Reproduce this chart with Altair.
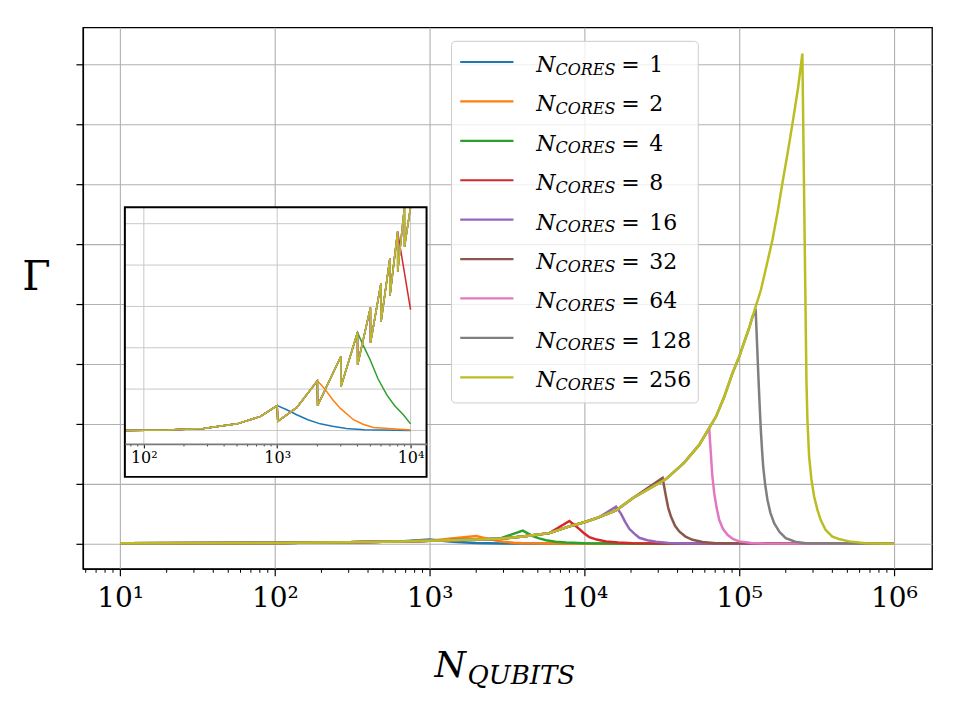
import altair as alt
import pandas as pd

# ---------------- data ----------------
CORES = [1, 2, 4, 8, 16, 32, 64, 128, 256]
COLORS = ["#1f77b4", "#ff7f0e", "#2ca02c", "#d62728", "#9467bd",
          "#8c564b", "#e377c2", "#7f7f7f", "#bcbd22"]

# main panel: common rising curve (the N_CORES=256 line before its peak)
ENV_N = [10, 100, 300, 640, 1000, 2000, 2830, 4000, 5940, 8000, 10000, 12500, 16000,
         20500, 33650, 44000, 55200, 70800, 80000, 90600, 100000, 105000, 116000, 122000,
         138000, 150000, 164000, 177000, 190000, 205000, 221000, 240000]
ENV_G = [0.01, 0.015, 0.025, 0.04, 0.05, 0.07, 0.085, 0.12, 0.178, 0.29, 0.36, 0.445, 0.555,
         0.76, 1.08, 1.35, 1.65, 2.12, 2.45, 2.85, 3.12, 3.28, 3.6, 3.79,
         4.23, 4.63, 5.07, 5.53, 6.01, 6.5, 7.01, 7.6]

PEAK_N = [1000, 2000, 4000, 8000, 16000, 32000, 64000, 128000, 256000]
PEAK_G = [0.07, 0.13, 0.22, 0.38, 0.62, 1.10, 1.93, 3.87, 8.18]

DECAY_N_1 = [1400, 2000, 3000, 10000, 1000000]
DECAY_G_1 = [0.035, 0.012, 0.004, 0.001, 0.0]
DECAY_N_2 = [2500, 2750, 3000, 3500, 4000, 8000, 1000000]
DECAY_G_2 = [0.07, 0.05, 0.035, 0.018, 0.01, 0.001, 0.0]
DECAY_N_4 = [4640, 5100, 5660, 6500, 7620, 10000, 20000, 1000000]
DECAY_G_4 = [0.13, 0.09, 0.06, 0.035, 0.02, 0.008, 0.001, 0.0]
DECAY_N_8 = [9290, 10000, 10770, 12000, 13800, 16500, 20500, 50000, 1000000]
DECAY_G_8 = [0.245, 0.17, 0.11, 0.07, 0.04, 0.02, 0.01, 0.001, 0.0]
DECAY_N_16 = [17260, 18300, 19500, 21000, 22640, 25500, 29000, 35000, 43000, 1000000]
DECAY_G_16 = [0.5, 0.37, 0.25, 0.17, 0.1, 0.06, 0.035, 0.015, 0.005, 0.0]
DECAY_N_32 = [33650, 34800, 36250, 38500, 41000, 45000, 50000, 58000, 70800, 1000000]
DECAY_G_32 = [0.79, 0.6, 0.455, 0.3, 0.205, 0.12, 0.067, 0.03, 0.01, 0.0]
DECAY_N_64 = [65600, 67000, 69000, 71500, 74300, 78500, 84100, 91000, 100000, 120000,
              148600, 1000000]
DECAY_G_64 = [1.51, 1.15, 0.845, 0.6, 0.4, 0.25, 0.15, 0.08, 0.04, 0.012, 0.003, 0.0]
DECAY_N_128 = [133400, 135700, 138000, 140400, 142900, 147000, 152400, 159000, 168300,
               182000, 200000, 230000, 269000, 1000000]
DECAY_G_128 = [2.73, 2.3, 1.9, 1.58, 1.29, 1.0, 0.73, 0.52, 0.345, 0.2, 0.095, 0.035,
               0.01, 0.0]
DECAY_N_256 = [267000, 272000, 276000, 283000, 293000, 305000, 320000, 336000, 362000,
               400000, 441000, 513000, 656000, 1000000]
DECAY_G_256 = [4.4, 2.73, 2.07, 1.46, 1.07, 0.79, 0.57, 0.4, 0.23, 0.12, 0.08, 0.04,
               0.01, 0.0]

DECAYS_N = [DECAY_N_1, DECAY_N_2, DECAY_N_4, DECAY_N_8, DECAY_N_16,
            DECAY_N_32, DECAY_N_64, DECAY_N_128, DECAY_N_256]
DECAYS_G = [DECAY_G_1, DECAY_G_2, DECAY_G_4, DECAY_G_8, DECAY_G_16,
            DECAY_G_32, DECAY_G_64, DECAY_G_128, DECAY_G_256]

MAIN_XTICKS = [10, 100, 1000, 10000, 100000, 1000000]
MAIN_YTICKS = [0, 1, 2, 3, 4, 5, 6, 7, 8]

# inset panel (zoom on 10^2..10^4)
IN_PRE_N = [72, 150, 280, 500, 750]
IN_PRE_G = [0.0, 0.001, 0.005, 0.016, 0.034]
IN_TOOTH_N = [1000, 2000, 3000, 4000, 5000, 6000, 7000, 8000, 9000]
IN_PEAK_G = [0.060, 0.120, 0.179, 0.237, 0.297, 0.356, 0.416, 0.481, 0.541]
IN_TROUGH_G = [0.022, 0.060, 0.106, 0.159, 0.212, 0.263, 0.326, 0.384, 0.444]
IN_MID_N = [1400]
IN_MID_G = [0.055]
IN_TOP_N = [10000]
IN_TOP_G = [0.60]

IN_DECAY_N_1 = [1180, 1400, 1700, 2100, 2600, 3300, 4500, 10000]
IN_DECAY_G_1 = [0.05, 0.038, 0.026, 0.016, 0.01, 0.005, 0.002, 0.0]
IN_DECAY_N_2 = [2170, 2355, 2600, 2965, 3735, 4400, 5263, 10000]
IN_DECAY_G_2 = [0.108, 0.094, 0.075, 0.054, 0.026, 0.015, 0.007, 0.001]
IN_DECAY_N_4 = [4400, 4977, 5700, 6637, 7600, 8836, 10000]
IN_DECAY_G_4 = [0.207, 0.171, 0.125, 0.086, 0.06, 0.038, 0.016]
IN_DECAY_N_8 = [10000]
IN_DECAY_G_8 = [0.292]
IN_DECAYS_N = [IN_DECAY_N_1, IN_DECAY_N_2, IN_DECAY_N_4, IN_DECAY_N_8]
IN_DECAYS_G = [IN_DECAY_G_1, IN_DECAY_G_2, IN_DECAY_G_4, IN_DECAY_G_8]

IN_XTICKS = [100, 1000, 10000]
IN_YTICKS = [0.0, 0.1, 0.2, 0.3, 0.4, 0.5]

# ---------------- tables ----------------
rows = []
for i, c in enumerate(CORES):
    pts = [(n, g) for n, g in zip(ENV_N, ENV_G) if n < PEAK_N[i]]
    pts.append((PEAK_N[i], PEAK_G[i]))
    pts += list(zip(DECAYS_N[i], DECAYS_G[i]))
    for k, (n, g) in enumerate(pts):
        rows.append({"N": n, "G": g, "cores": str(c), "k": k})
df_main = pd.DataFrame(rows)

rows = []
for i, c in enumerate(CORES):
    pk = PEAK_N[i]
    pts = list(zip(IN_PRE_N, IN_PRE_G))
    for n, gp, gt in zip(IN_TOOTH_N, IN_PEAK_G, IN_TROUGH_G):
        if n > pk:
            break
        pts.append((n, gp))
        if n == pk:
            break
        pts.append((n + 10, gt))
        pts += [(m, g) for m, g in zip(IN_MID_N, IN_MID_G) if n < m < n + 1000]
    if i < len(IN_DECAYS_N):
        pts += list(zip(IN_DECAYS_N[i], IN_DECAYS_G[i]))
    else:
        pts += list(zip(IN_TOP_N, IN_TOP_G))
    for k, (n, g) in enumerate(pts):
        rows.append({"N": n, "G": g, "cores": str(c), "k": k})
df_in = pd.DataFrame(rows)

MAIN_LO, MAIN_HI = 10 ** 0.76, 10 ** 6.246
IN_LO, IN_HI = 10 ** 1.858, 10 ** 4.12
main_minor = [m * 10 ** e for e in range(0, 7) for m in range(2, 10)
              if MAIN_LO <= m * 10 ** e <= MAIN_HI]
in_minor = [m * 10 ** e for e in range(1, 5) for m in range(2, 10)
            if IN_LO <= m * 10 ** e <= IN_HI]

# ---------------- layout constants (pixels, relative to plot origin) ----------------
W, H = 850, 542
IX0, IX1, IY0, IY1, IBOX = 42, 344, 180, 417, 450  # inset area

SERIF = "DejaVu Serif"
SUP = "['\u2070','\u00b9','\u00b2','\u00b3','\u2074','\u2075','\u2076']"
LABEL_EXPR = "'10' + " + SUP + "[round(log(datum.value) / LN10)]"

color = alt.Color("cores:N", scale=alt.Scale(domain=[str(c) for c in CORES], range=COLORS),
                  legend=None)

# ---------------- main panel ----------------
mx = alt.Scale(type="log", domain=[MAIN_LO, MAIN_HI], nice=False)
my = alt.Scale(domain=[-0.417, 8.617], nice=False, zero=False)
MAIN_XAXIS = alt.Axis(
    values=MAIN_XTICKS, labelExpr=LABEL_EXPR, labelFont=SERIF, labelFontSize=28,
    labelColor="black", labelPadding=9, labelFlush=False, labelOverlap=False,
    tickSize=7, tickColor="black", tickWidth=1.2, domainColor="black", domainWidth=1.3,
    grid=True, gridColor="#b0b0b0", gridWidth=1.1, title=None)
MAIN_YAXIS = alt.Axis(
    values=MAIN_YTICKS, labels=False, tickSize=7, tickColor="black", tickWidth=1.2,
    domainColor="black", domainWidth=1.3, grid=True, gridColor="#b0b0b0",
    gridWidth=1.1, title=None)

main_lines = alt.Chart(df_main).mark_line(strokeWidth=2.5).encode(
    x=alt.X("N:Q", scale=mx, axis=MAIN_XAXIS),
    y=alt.Y("G:Q", scale=my, axis=MAIN_YAXIS),
    color=color,
    order=alt.Order("k:Q"),
)
main_minor_ticks = alt.Chart(pd.DataFrame({"N": main_minor})).mark_rule(
    color="black", strokeWidth=1).encode(
    x=alt.X("N:Q", scale=mx, axis=MAIN_XAXIS),
    y=alt.value(H), y2=alt.value(H + 4),
)
main = alt.layer(main_lines, main_minor_ticks)

# ---------------- inset panel ----------------
ix = alt.Scale(type="log", domain=[IN_LO, IN_HI], range=[IX0, IX1], nice=False)
iy = alt.Scale(domain=[-0.0325, 0.540], range=[IY1, IY0], nice=False, zero=False, clamp=True)
IN_XAXIS = alt.Axis(
    orient="bottom", offset=-(H - IY1), values=IN_XTICKS, labelExpr=LABEL_EXPR,
    labelFont=SERIF, labelFontSize=16, labelColor="black", labelPadding=2,
    labelFlush=False, labelOverlap=False, tickSize=4, tickColor="black",
    domainColor="#7a7a7a", domainWidth=1.6, grid=False, title=None, zindex=1)

one = pd.DataFrame({"a": [0]})
inset_bg = alt.Chart(one).mark_rect(fill="white", stroke=None).encode(
    x=alt.value(IX0), x2=alt.value(IX1), y=alt.value(IY0), y2=alt.value(IBOX))
inset_gx = alt.Chart(pd.DataFrame({"N": IN_XTICKS})).mark_rule(
    color="#c8c8c8", strokeWidth=1).encode(
    x=alt.X("N:Q", scale=ix, axis=IN_XAXIS), y=alt.value(IY0), y2=alt.value(IY1))
inset_gy = alt.Chart(pd.DataFrame({"G": IN_YTICKS})).mark_rule(
    color="#c8c8c8", strokeWidth=1).encode(
    y=alt.Y("G:Q", scale=iy, axis=None), x=alt.value(IX0), x2=alt.value(IX1))
inset_lines = alt.Chart(df_in).mark_line(strokeWidth=1.5).encode(
    x=alt.X("N:Q", scale=ix, axis=IN_XAXIS),
    y=alt.Y("G:Q", scale=iy, axis=None),
    color=color,
    order=alt.Order("k:Q"),
)
inset_minor_ticks = alt.Chart(pd.DataFrame({"N": in_minor})).mark_rule(
    color="black", strokeWidth=0.8).encode(
    x=alt.X("N:Q", scale=ix, axis=IN_XAXIS),
    y=alt.value(IY1), y2=alt.value(IY1 + 2.5),
)
inset_frame = alt.Chart(one).mark_rect(fill="white", fillOpacity=0, stroke="black",
                                       strokeWidth=2).encode(
    x=alt.value(IX0), x2=alt.value(IX1), y=alt.value(IY0), y2=alt.value(IBOX))
inset = alt.layer(inset_bg, inset_gx, inset_gy, inset_lines, inset_minor_ticks, inset_frame)

# ---------------- legend ----------------
df_leg = pd.DataFrame({"row": list(range(len(CORES))), "cores": [str(c) for c in CORES]})
ly = alt.Scale(domain=[0, len(CORES) - 1], range=[34.7, 350.3], nice=False, zero=False)
leg_box = alt.Chart(one).mark_rect(fill="white", fillOpacity=0.8, stroke="#cccccc",
                                   strokeWidth=1, cornerRadius=4).encode(
    x=alt.value(369), x2=alt.value(616), y=alt.value(14), y2=alt.value(376))
leg_base = alt.Chart(df_leg)
leg_sw = leg_base.mark_rule(strokeWidth=2.2).encode(
    x=alt.value(377.7), x2=alt.value(431),
    y=alt.Y("row:Q", scale=ly, axis=None), color=color)
leg_n = leg_base.mark_text(text="N", font=SERIF, fontStyle="italic", fontSize=22,
                           align="left", baseline="alphabetic", dy=10, color="black").encode(
    x=alt.value(453.7), y=alt.Y("row:Q", scale=ly, axis=None))
leg_sub = leg_base.mark_text(text="CORES", font=SERIF, fontStyle="italic", fontSize=16,
                             align="left", baseline="alphabetic", dy=12.6, color="black").encode(
    x=alt.value(473), y=alt.Y("row:Q", scale=ly, axis=None))
leg_eq = leg_base.mark_text(text="=", font=SERIF, fontSize=22, align="left",
                            baseline="alphabetic", dy=10, color="black").encode(
    x=alt.value(539), y=alt.Y("row:Q", scale=ly, axis=None))
leg_num = leg_base.mark_text(font=SERIF, fontSize=22, align="left",
                             baseline="alphabetic", dy=10, color="black").encode(
    x=alt.value(567), y=alt.Y("row:Q", scale=ly, axis=None), text="cores:N")
legend = alt.layer(leg_box, leg_sw, leg_n, leg_sub, leg_eq, leg_num)

# ---------------- axis titles ----------------
t_gamma = alt.Chart(one).mark_text(text="\u0393", font=SERIF, fontSize=41, align="center",
                                   baseline="alphabetic", color="black").encode(
    x=alt.value(-46.5), y=alt.value(263))
t_n = alt.Chart(one).mark_text(text="N", font=SERIF, fontStyle="italic", fontSize=36,
                               align="left", baseline="alphabetic", color="black").encode(
    x=alt.value(352), y=alt.value(650))
t_sub = alt.Chart(one).mark_text(text="QUBITS", font=SERIF, fontStyle="italic", fontSize=26,
                                 align="left", baseline="alphabetic", color="black").encode(
    x=alt.value(385), y=alt.value(657))
titles = alt.layer(t_gamma, t_n, t_sub)

chart = alt.layer(main, inset, legend, titles).resolve_scale(
    x="independent", y="independent"
).properties(
    width=W, height=H, autosize="none",
    padding={"left": 75, "top": 19, "right": 20, "bottom": 140},
    background="white",
).configure_view(stroke="black", strokeWidth=1.3)

chart.save("out.html", embed_options={"renderer": "svg", "actions": False})
